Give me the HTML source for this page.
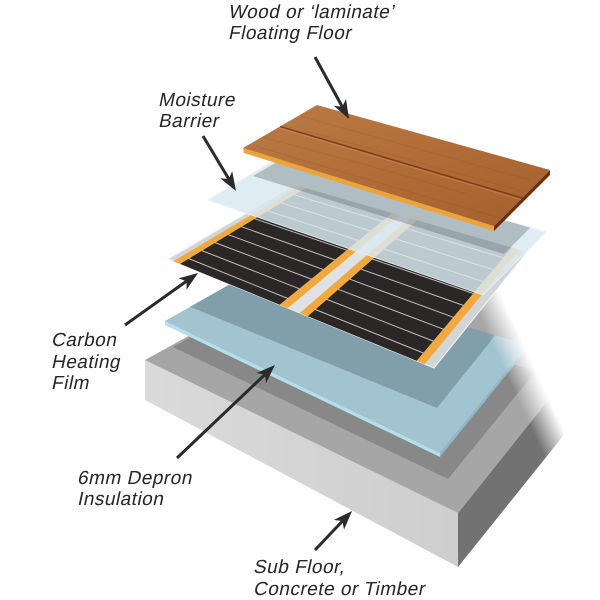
<!DOCTYPE html>
<html><head><meta charset="utf-8">
<style>
html,body{margin:0;padding:0;background:#fff;}
svg{display:block}
text{font-family:"Liberation Sans",Arial,sans-serif;font-style:normal;font-size:19px;fill:#262626;letter-spacing:0.5px}
</style></head>
<body>
<svg width="600" height="600" viewBox="0 0 600 600" xmlns="http://www.w3.org/2000/svg">
<defs>
  <linearGradient id="fadeG" gradientUnits="userSpaceOnUse" x1="521" y1="406" x2="547" y2="394">
    <stop offset="0" stop-color="#fff"/><stop offset="1" stop-color="#000"/>
  </linearGradient>
  <mask id="fade" maskUnits="userSpaceOnUse" x="0" y="0" width="600" height="600">
    <rect width="600" height="600" fill="url(#fadeG)"/>
  </mask>
  <clipPath id="insClip"><polygon points="165,321 440,453 528,345 262,266"/></clipPath>
  <clipPath id="slabTopClip"><polygon points="145,360 458,513 600,335 390,225"/></clipPath>
  <clipPath id="barClip"><polygon points="208,200 280,157 546,232 483,295"/></clipPath>
  <linearGradient id="woodG" x1="0" y1="0" x2="1" y2="1">
    <stop offset="0" stop-color="#bb7b45"/><stop offset="0.5" stop-color="#b06d38"/><stop offset="1" stop-color="#a3602d"/>
  </linearGradient>
  <linearGradient id="frontG" x1="0" y1="0" x2="1" y2="0">
    <stop offset="0" stop-color="#dadada"/><stop offset="1" stop-color="#cecece"/>
  </linearGradient>
  <marker id="ah" markerUnits="userSpaceOnUse" markerWidth="30" markerHeight="20" refX="0" refY="0" orient="auto" viewBox="-20 -10 30 20" overflow="visible">
    <path d="M5,0 L-14,-7 L-9,0 L-14,7 Z" fill="#2b2b2b"/>
  </marker>
</defs>

<!-- Sub floor + insulation (faded on right) -->
<g mask="url(#fade)">
  <polygon points="458,513 600,335 600,390 458,567" fill="#727272"/>
  <polygon points="145,360 458,513 458,567 145,400" fill="url(#frontG)"/>
  <polygon points="145,360 458,513 600,335 390,225" fill="#a6a6a6"/>
  <polygon clip-path="url(#slabTopClip)" points="173,347 448,479 536,371 270,292" fill="#888888"/>
  <!-- insulation -->
  <polygon points="440,453 528,345 528,348 440,457" fill="#8fb7c4"/>
  <polygon points="165,321 440,453 440,457 165,325" fill="#b2e0ea"/>
  <polygon points="165,321 440,453 528,345 262,266" fill="#a2c3d0"/>
  <polygon clip-path="url(#insClip)" points="171,299 437,408 530,292 298,225" fill="rgba(30,50,60,0.25)"/>
</g>

<!-- Carbon heating film -->
<polygon points="168,259 434,368 527,252 295,185" fill="#d2d5d8" stroke="#f3f4f5" stroke-width="1"/>
<polygon points="287.7,308.1 299.7,313 409.8,218.2 399.4,215.2" fill="#dfe2e4"/>
<line x1="292" y1="298" x2="318" y2="276" stroke="#6a6e72" stroke-width="1.5"/>
<polygon points="180,263.9 279.7,304.8 392.4,213.1 305.4,188" fill="#2a2726"/>
<polygon points="307.7,316.2 416.7,360.9 511.9,247.6 416.8,220.2" fill="#2a2726"/>
<polygon points="173.3,261.2 180,263.9 305.4,188 299.6,186.3" fill="#f2a93b"/>
<polygon points="279.7,304.8 287.7,308.1 399.4,215.2 392.4,213.1" fill="#f2a93b"/>
<polygon points="299.7,313 307.7,316.2 416.8,220.2 409.8,218.2" fill="#f2a93b"/>
<polygon points="416.7,360.9 424.7,364.2 518.9,249.7 511.9,247.6" fill="#f2a93b"/>
<g stroke="rgba(255,255,255,0.7)" stroke-width="1">
  <line x1="188.8" y1="258.6" x2="287.6" y2="298.4"/>
  <line x1="201.9" y1="250.6" x2="299.4" y2="288.8"/>
  <line x1="215.1" y1="242.6" x2="311.3" y2="279.1"/>
  <line x1="228.3" y1="234.7" x2="323.1" y2="269.5"/>
  <line x1="241.4" y1="226.7" x2="334.9" y2="259.9"/>
  <line x1="254.6" y1="218.7" x2="346.8" y2="250.2"/>
  <line x1="267.8" y1="210.8" x2="358.6" y2="240.6"/>
  <line x1="280.9" y1="202.8" x2="370.4" y2="231.0"/>
  <line x1="294.1" y1="194.8" x2="382.3" y2="221.4"/>
  <line x1="315.3" y1="309.5" x2="423.4" y2="353.0"/>
  <line x1="326.8" y1="299.4" x2="433.4" y2="341.1"/>
  <line x1="338.2" y1="289.3" x2="443.4" y2="329.2"/>
  <line x1="349.7" y1="279.2" x2="453.4" y2="317.3"/>
  <line x1="361.2" y1="269.2" x2="463.3" y2="305.4"/>
  <line x1="372.6" y1="259.1" x2="473.3" y2="293.5"/>
  <line x1="384.1" y1="249.0" x2="483.3" y2="281.6"/>
  <line x1="395.5" y1="238.9" x2="493.3" y2="269.7"/>
  <line x1="407.0" y1="228.8" x2="503.3" y2="257.8"/>
</g>

<!-- Moisture barrier -->
<polygon points="208,200 280,157 546,232 483,295" fill="#d9e9f0" fill-opacity="0.84" stroke="#e8f2f6" stroke-width="0.8"/>
<polygon clip-path="url(#barClip)" points="253,176 327,133 560,198 504,254" fill="rgba(70,80,85,0.3)"/>

<!-- Wood floor -->
<polygon points="494,226 550,170 550,175 494,231" fill="#6b2f17"/>
<polygon points="243,148 494,226 494,231 244,153" fill="#eba33a"/>
<polygon points="243,148 317,105 550,170 494,226" fill="url(#woodG)"/>
<g stroke="rgba(120,60,25,0.15)" stroke-width="1" fill="none">
  <path d="M262,137 C330,155 380,168 470,195"/>
  <path d="M300,116 C360,132 420,150 530,180"/>
  <path d="M256,146 C320,166 390,186 500,218"/>
  <path d="M305,131 C380,150 440,170 520,190"/>
</g>
<line x1="280" y1="126.5" x2="522" y2="198" stroke="#7a3b1b" stroke-width="1.4"/>
<line x1="280" y1="128.2" x2="521" y2="199.7" stroke="rgba(230,170,110,0.35)" stroke-width="1"/>

<!-- Arrows -->
<g stroke="#2b2b2b" stroke-width="3" fill="none" marker-end="url(#ah)">
  <line x1="315" y1="57" x2="346.6" y2="114.6"/>
  <line x1="203" y1="136" x2="233.4" y2="186.7"/>
  <line x1="125" y1="325" x2="193.9" y2="275.9"/>
  <line x1="177" y1="458" x2="271.4" y2="368.4"/>
  <line x1="315" y1="550" x2="348.6" y2="514.6"/>
</g>

<!-- Labels (slanted) -->
<text transform="translate(228,18) skewX(-12)">Wood or ‘laminate’</text>
<text transform="translate(228,39) skewX(-12)">Floating Floor</text>
<text transform="translate(158,106) skewX(-12)">Moisture</text>
<text transform="translate(158,127) skewX(-12)">Barrier</text>
<text transform="translate(51,346) skewX(-12)">Carbon</text>
<text transform="translate(51,368) skewX(-12)">Heating</text>
<text transform="translate(51,389) skewX(-12)">Film</text>
<text transform="translate(77,484) skewX(-12)">6mm Depron</text>
<text transform="translate(77,505) skewX(-12)">Insulation</text>
<text transform="translate(253,573) skewX(-12)">Sub Floor,</text>
<text transform="translate(253,595) skewX(-12)">Concrete or Timber</text>
</svg>
</body></html>
